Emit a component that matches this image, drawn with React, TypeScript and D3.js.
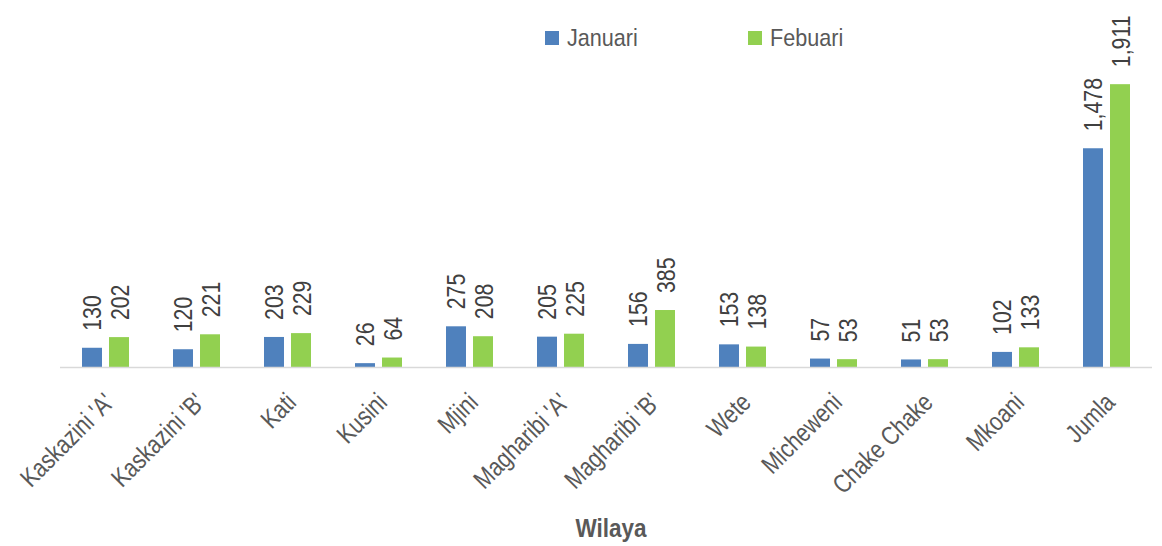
import React from 'react';
import * as d3 from 'd3';

// chart values
const categories = ["Kaskazini 'A'", "Kaskazini 'B'", 'Kati', 'Kusini', 'Mjini', "Magharibi 'A'", "Magharibi 'B'", 'Wete', 'Micheweni', 'Chake Chake', 'Mkoani', 'Jumla'];
const januari = [130, 120, 203, 26, 275, 205, 156, 153, 57, 51, 102, 1478];
const febuari = [202, 221, 229, 64, 208, 225, 385, 138, 53, 53, 133, 1911];
const seriesNames = ['Januari', 'Febuari'];
const seriesColors = ['#4f81bd', '#92d050'];

const W = 1162;
const H = 546;
const FONT = '"Liberation Sans", Arial, sans-serif';
// no narrow font installed, so squeeze the regular one (arial narrow ~ 0.82)
const SQ = 'scale(0.82,1)';
const SQ_LEGEND = 'scale(0.9,1)';

const App = () => {
  const x = d3.scaleBand<string>().domain(categories).range([60, 1152]);
  const inner = d3.scaleBand<string>().domain(seriesNames).range([0, 47]).paddingInner(0.26);
  const y = d3.scaleLinear().domain([0, 2000]).range([367, 71]);
  const fmt = d3.format(',');
  const series = [januari, febuari];

  return (
    <svg width={W} height={H} style={{ position: 'absolute', left: 0, top: 0, background: '#fff' }}>
      {/* bars + rotated value labels */}
      {series.map((vals, si) => (
        <g key={si}>
          {categories.map((c, i) => {
            const bx = (x(c) as number) + x.bandwidth() / 2 - 23.5 + (inner(seriesNames[si]) as number);
            const bw = inner.bandwidth();
            const top = y(vals[i]);
            const cx = bx + bw / 2;
            return (
              <g key={c}>
                <rect x={bx} y={top} width={bw} height={y(0) - top} fill={seriesColors[si]} />
                <text
                  transform={`translate(${cx + 9.5},${top - 17}) rotate(-90) ${SQ}`}
                  fontFamily={FONT}
                  fontSize={26}
                  fill="#404040"
                >
                  {fmt(vals[i])}
                </text>
              </g>
            );
          })}
        </g>
      ))}

      {/* axis line */}
      <line x1={60} x2={1152} y1={367.5} y2={367.5} stroke="#d9d9d9" strokeWidth={1.5} />

      {/* category labels */}
      {categories.map((c) => {
        const cx = (x(c) as number) + x.bandwidth() / 2;
        return (
          <text
            key={c}
            transform={`translate(${cx + 10},${404}) rotate(-45) ${SQ}`}
            textAnchor="end"
            fontFamily={FONT}
            fontSize={26}
            fill="#595959"
          >
            {c}
          </text>
        );
      })}

      {/* axis title */}
      <text transform={`translate(611,537) ${SQ_LEGEND}`} textAnchor="middle" fontFamily={FONT} fontSize={25} fontWeight="bold" fill="#595959">
        Wilaya
      </text>

      {/* legend */}
      {seriesNames.map((s, i) => {
        const lx = 545 + i * 203;
        return (
          <g key={s}>
            <rect x={lx} y={31} width={14} height={14} fill={seriesColors[i]} />
            <text transform={`translate(${lx + 22},46) ${SQ_LEGEND}`} fontFamily={FONT} fontSize={24} fill="#595959">
              {s}
            </text>
          </g>
        );
      })}
    </svg>
  );
};

export default App;
